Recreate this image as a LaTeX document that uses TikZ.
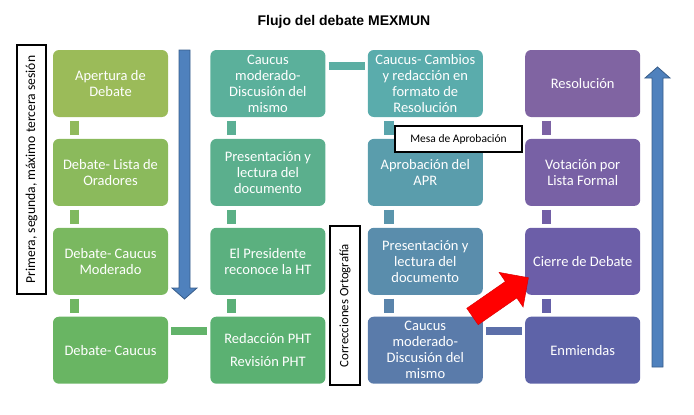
\documentclass[tikz,border=0pt]{standalone}
\usepackage{fontspec}
\setmainfont{Carlito}
\newfontfamily\titlefont{Liberation Sans}
\usetikzlibrary{calc, positioning}

\definecolor{arrowblue}{HTML}{4F81BD}
\definecolor{arrowedge}{HTML}{385D8A}

\begin{document}
\begin{tikzpicture}[x=1pt, y=-1pt,
  box/.style={rounded corners=6pt, minimum width=115pt, minimum height=67pt, inner sep=1pt, align=center, text=white, font=\fontsize{14.5}{16}\selectfont},
  link/.style={line width=9.5pt, shorten <=3.5pt, shorten >=3.5pt},
  hlink/.style={line width=8pt, shorten <=3pt, shorten >=3pt},
  tag/.style={draw=black, line width=2.5pt, fill=white, inner sep=0pt, font=\fontsize{13.6}{15}\selectfont},
  node distance=21.5pt and 42pt]
\useasboundingbox (0,0) rectangle (694,415);

\node[font=\titlefont\bfseries\fontsize{14}{16}\selectfont] (title) at (344,22) {Flujo del debate MEXMUN};

\node[box, fill={rgb,255:red,155;green,187;blue,89}] (a1) at (110.5,83.5) {Apertura de\\Debate};
\node[box, fill={rgb,255:red,139;green,186;blue,92}, below=of a1] (a2) {Debate- Lista de\\Oradores};
\node[box, fill={rgb,255:red,122;green,184;blue,96}, below=of a2] (a3) {Debate- Caucus\\Moderado};
\node[box, fill={rgb,255:red,105;green,181;blue,99}, below=of a3] (a4) {Debate- Caucus};

\node[box, fill={rgb,255:red,91;green,176;blue,155}, right=of a1] (b1) {Caucus\\moderado-\\Discusión del\\mismo};
\node[box, fill={rgb,255:red,91;green,175;blue,141}, below=of b1] (b2) {Presentación y\\lectura del\\documento};
\node[box, fill={rgb,255:red,91;green,176;blue,127}, below=of b2] (b3) {El Presidente\\reconoce la HT};
\node[box, fill={rgb,255:red,91;green,177;blue,114}, below=of b3] (b4) {Redacción PHT\\[7pt]Revisión PHT};

\node[box, fill={rgb,255:red,90;green,172;blue,172}, right=of b1] (c1) {Caucus- Cambios\\y redacción en\\formato de\\Resolución};
\node[box, fill={rgb,255:red,90;green,157;blue,172}, below=of c1] (c2) {Aprobación del\\APR};
\node[box, fill={rgb,255:red,90;green,141;blue,172}, below=of c2] (c3) {Presentación y\\lectura del\\documento};
\node[box, fill={rgb,255:red,90;green,123;blue,170}, below=of c3] (c4) {Caucus\\moderado-\\Discusión del\\mismo};

\node[box, fill={rgb,255:red,128;green,100;blue,162}, right=of c1] (d1) {Resolución};
\node[box, fill={rgb,255:red,120;green,97;blue,165}, below=of d1] (d2) {Votación por\\Lista Formal};
\node[box, fill={rgb,255:red,108;green,94;blue,168}, below=of d2] (d3) {Cierre de Debate};
\node[box, fill={rgb,255:red,94;green,99;blue,168}, below=of d3] (d4) {Enmiendas};

\draw[link, color={rgb,255:red,145;green,186;blue,92}] ([xshift=21.5pt]a1.south west) -- ([xshift=21.5pt]a2.north west);
\draw[link, color={rgb,255:red,128;green,185;blue,95}] ([xshift=21.5pt]a2.south west) -- ([xshift=21.5pt]a3.north west);
\draw[link, color={rgb,255:red,112;green,182;blue,98}] ([xshift=21.5pt]a3.south west) -- ([xshift=21.5pt]a4.north west);
\draw[link, color={rgb,255:red,91;green,175;blue,148}] ([xshift=21.5pt]b1.south west) -- ([xshift=21.5pt]b2.north west);
\draw[link, color={rgb,255:red,91;green,176;blue,134}] ([xshift=21.5pt]b2.south west) -- ([xshift=21.5pt]b3.north west);
\draw[link, color={rgb,255:red,91;green,176;blue,120}] ([xshift=21.5pt]b3.south west) -- ([xshift=21.5pt]b4.north west);
\draw[link, color={rgb,255:red,90;green,165;blue,172}] ([xshift=21.5pt]c1.south west) -- ([xshift=21.5pt]c2.north west);
\draw[link, color={rgb,255:red,90;green,149;blue,172}] ([xshift=21.5pt]c2.south west) -- ([xshift=21.5pt]c3.north west);
\draw[link, color={rgb,255:red,90;green,132;blue,171}] ([xshift=21.5pt]c3.south west) -- ([xshift=21.5pt]c4.north west);
\draw[link, color={rgb,255:red,124;green,98;blue,164}] ([xshift=21.5pt]d1.south west) -- ([xshift=21.5pt]d2.north west);
\draw[link, color={rgb,255:red,114;green,95;blue,166}] ([xshift=21.5pt]d2.south west) -- ([xshift=21.5pt]d3.north west);
\draw[link, color={rgb,255:red,101;green,96;blue,168}] ([xshift=21.5pt]d3.south west) -- ([xshift=21.5pt]d4.north west);

\draw[hlink, color={rgb,255:red,98;green,179;blue,106}] ([yshift=19pt]a4.east) -- ([yshift=19pt]b4.west);
\draw[hlink, color={rgb,255:red,91;green,174;blue,163}] ([yshift=17.5pt]b1.east) -- ([yshift=17.5pt]c1.west);
\draw[hlink, color={rgb,255:red,92;green,111;blue,169}] ([yshift=19pt]c4.east) -- ([yshift=19pt]d4.west);

\filldraw[fill=arrowblue, draw=arrowedge, line width=0.8pt] (179,50) -- (190,50) -- (190,288) -- (197,288) -- (184.5,299) -- (172,288) -- (179,288) -- cycle;
\filldraw[fill=arrowblue, draw=arrowedge, line width=0.8pt] (652,367) -- (663,367) -- (663,78) -- (670,78) -- (657.5,67) -- (645,78) -- (652,78) -- cycle;

\node[tag, rotate=90, minimum width=249pt, minimum height=29pt] (sesion) at (31.5,169.5) {Primera, segunda, máximo tercera sesión};
\node[tag, rotate=90, minimum width=159pt, minimum height=30pt, font=\fontsize{12.8}{15}\selectfont] (ortografia) at (345,305.5) {Correcciones Ortografía};
\node[tag, minimum width=127pt, minimum height=26pt, font=\fontsize{11.5}{13}\selectfont] (mesa) at (458.5,139) {Mesa de Aprobación};

\filldraw[fill=red, draw={rgb,255:red,220;green,0;blue,0}, line width=0.5pt] (478.2,324.7) -- (516.8,297.9) -- (523.1,307.0) -- (528.4,277.7) -- (499.1,272.4) -- (505.4,281.5) -- (466.8,308.3) -- cycle;
\end{tikzpicture}
\end{document}
